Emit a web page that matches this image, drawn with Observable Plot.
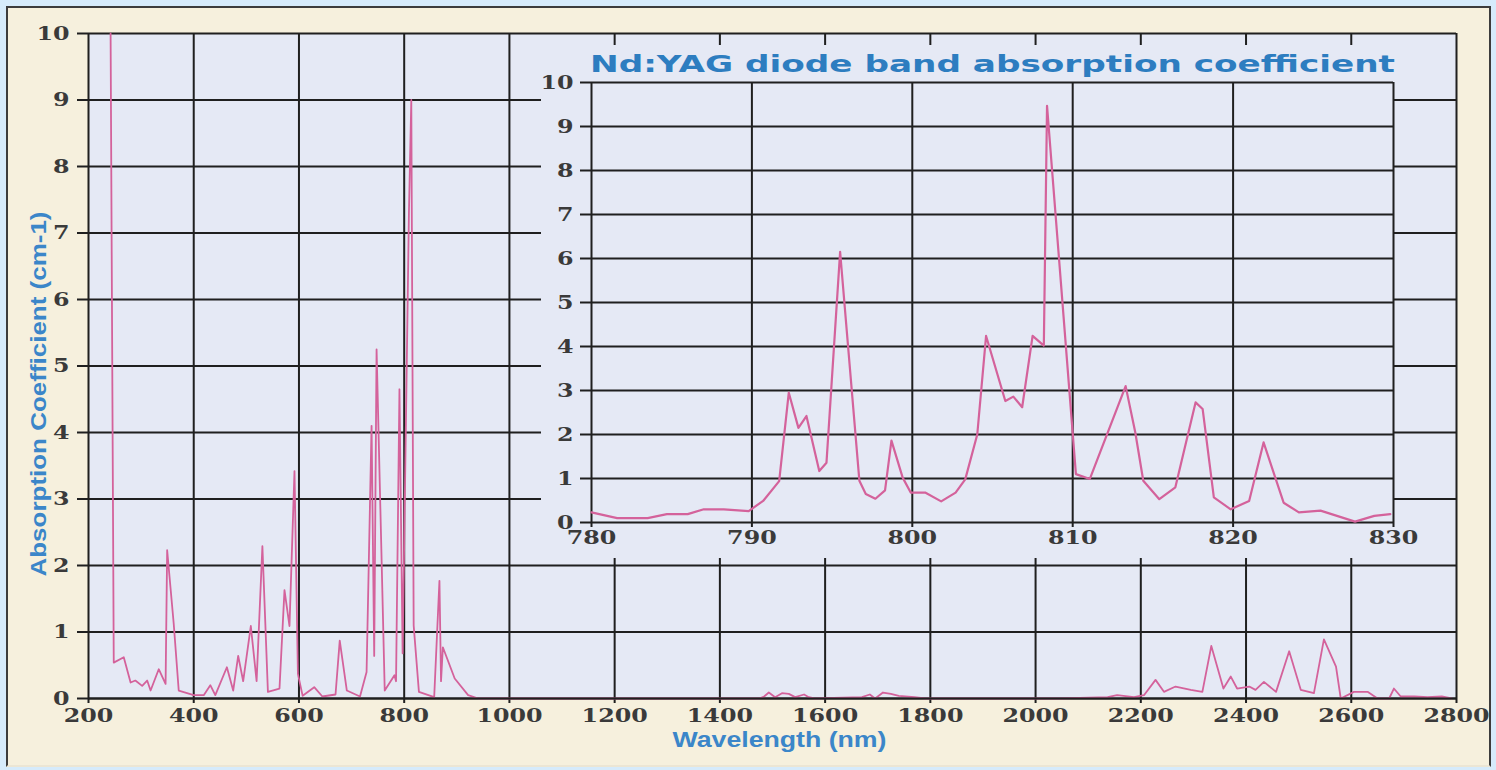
<!DOCTYPE html>
<html><head><meta charset="utf-8">
<script src="https://cdn.jsdelivr.net/npm/d3@7"></script>
<script src="https://cdn.jsdelivr.net/npm/@observablehq/plot@0.6"></script>
<style>
html,body{margin:0;padding:0;background:#d6ebfb;width:1496px;height:770px;overflow:hidden;}
#frame{position:absolute;left:6px;top:6px;width:1485px;height:761px;background:#f6f0dd;border:2px solid #3c3c3c;border-bottom-color:#ece6d4;box-sizing:border-box;}
#main{position:absolute;left:0;top:0;width:1496px;height:770px;}
#inset{position:absolute;left:541px;top:45px;width:853px;height:513px;}
svg{overflow:visible;}
</style></head><body>
<div id="frame"></div>
<div id="main"></div>
<div id="inset"></div>
<script>
// ---- Main spectrum (wavelength nm, absorption cm-1) ----
const mainWavelength = [
  242, 248, 267, 280, 289, 302, 311.5, 318, 333.5, 346.5, 349.5, 362, 371.5,
  400, 419, 431.5, 441, 463, 475, 484.5, 494, 508.5, 519.5, 530.5, 541, 563, 572.5, 582, 591.5, 598,
  607, 629, 644.5, 669.5, 677.5, 691, 716, 728.5, 738, 743, 747.5, 763, 781.5, 784.5, 791, 797,
  809, 813.5, 818, 828, 857, 867, 870, 873.5, 896, 921.5, 941,
  1000, 1200, 1400, 1475, 1484, 1493, 1505, 1518, 1531, 1543, 1560, 1569, 1580,
  1670, 1685, 1695, 1710, 1725, 1740, 1770, 1790, 1900, 2000,
  2048, 2137, 2155, 2187, 2206, 2228, 2244, 2266, 2295, 2317, 2334, 2357, 2371, 2383,
  2406, 2418, 2434, 2457, 2482, 2504, 2529, 2548, 2571, 2580, 2605, 2631, 2650, 2672,
  2681, 2694, 2720, 2745, 2772, 2791
];
const mainAbsorption = [
  10, 0.54, 0.62, 0.24, 0.27, 0.19, 0.27, 0.12, 0.44, 0.22, 2.23, 1.12, 0.12,
  0.05, 0.05, 0.2, 0.05, 0.47, 0.12, 0.64, 0.26, 1.09, 0.26, 2.29, 0.1, 0.15, 1.63, 1.09, 3.42, 0.37,
  0.04, 0.17, 0.03, 0.06, 0.87, 0.12, 0.03, 0.4, 4.1, 0.64, 5.25, 0.12, 0.35, 0.26, 4.65, 0.68,
  7.3, 9.0, 1.1, 0.1, 0.02, 1.77, 0.26, 0.77, 0.3, 0.05, 0,
  0, 0, 0, 0, 0.03, 0.09, 0.02, 0.08, 0.07, 0.02, 0.06, 0.02, 0,
  0.02, 0.06, 0, 0.09, 0.07, 0.04, 0.02, 0, 0, 0,
  0, 0.02, 0.05, 0.02, 0.05, 0.28, 0.1, 0.18, 0.13, 0.1, 0.79, 0.15, 0.33, 0.15,
  0.18, 0.13, 0.25, 0.1, 0.71, 0.13, 0.08, 0.89, 0.48, 0, 0.1, 0.1, 0, 0,
  0.15, 0.03, 0.03, 0.02, 0.03, 0
];

// ---- Inset: diode band 780-830 nm ----
const insetWavelength = [
  780, 781.6, 783.5, 784.7, 786, 787, 788.25, 789.8, 790.7, 791.7, 792.3, 792.9, 793.4, 794.2, 794.65,
  795.5, 796.7, 797.1, 797.7, 798.3, 798.7, 799.4, 799.9, 800.8, 801.8, 802.7, 803.3, 804.05, 804.6,
  805.8, 806.3, 806.85, 807.5, 808.2, 808.4, 810.2, 811.07, 813.3, 813.9, 814.4, 815.4, 816.4,
  817.66, 818.1, 818.8, 819.85, 821, 821.9, 823.15, 824.1, 825.45, 827.6, 828.8, 829.8
];
const insetAbsorption = [
  0.23, 0.1, 0.1, 0.19, 0.19, 0.3, 0.3, 0.26, 0.49, 0.94, 2.95, 2.15, 2.42, 1.17, 1.36,
  6.15, 0.95, 0.65, 0.54, 0.73, 1.86, 1.02, 0.68, 0.68, 0.48, 0.68, 0.98, 2.0, 4.24,
  2.76, 2.86, 2.62, 4.24, 4.02, 9.47, 1.1, 0.99, 3.1, 2.05, 0.95, 0.53, 0.8,
  2.73, 2.58, 0.57, 0.3, 0.49, 1.82, 0.45, 0.23, 0.27, 0.02, 0.15, 0.19
];

// ---- Ticks and text ----
const mainXTicks = [200, 400, 600, 800, 1000, 1200, 1400, 1600, 1800, 2000, 2200, 2400, 2600, 2800];
const mainYTicks = [0, 1, 2, 3, 4, 5, 6, 7, 8, 9, 10];
const insetXTicks = [780, 790, 800, 810, 820, 830];
const insetYTicks = [0, 1, 2, 3, 4, 5, 6, 7, 8, 9, 10];
const xLabel = "Wavelength (nm)";
const yLabel = "Absorption Coefficient (cm-1)";
const insetTitle = "Nd:YAG diode band absorption coefficient";

const mainData = mainWavelength.map((w, i) => ({w, a: mainAbsorption[i]}));
const insetData = insetWavelength.map((w, i) => ({w, a: insetAbsorption[i]}));

const gridColor = "#1f1f1f";
const lineColor = "#d4629b";
const labelFont = {fontFamily: "'DejaVu Serif', serif", fontSize: 19, fontWeight: "bold", fill: "#3a3a3a"};
const svgStyle = {fontFamily: "'DejaVu Serif', serif", fontSize: "19px", fontWeight: "bold", color: "#3a3a3a", overflow: "visible"};
const fmt = d => String(d);

const main = Plot.plot({
  width: 1496, height: 770,
  marginLeft: 88, marginRight: 40, marginTop: 33, marginBottom: 72,
  style: {...svgStyle, background: "transparent"},
  x: {domain: [200, 2800]},
  y: {domain: [0, 10]},
  marks: [
    Plot.frame({fill: "#e5e9f5", stroke: null}),
    Plot.gridX(mainXTicks, {stroke: gridColor, strokeOpacity: 1, strokeWidth: 2}),
    Plot.gridY(mainYTicks, {stroke: gridColor, strokeOpacity: 1, strokeWidth: 2}),
    Plot.axisX(mainXTicks, {tickSize: 5, tickPadding: 5, label: null, tickFormat: fmt, stroke: gridColor, strokeWidth: 2, ...labelFont}),
    Plot.axisY(mainYTicks, {tickSize: 11, tickPadding: 8, label: null, tickFormat: fmt, stroke: gridColor, strokeWidth: 2, ...labelFont}),
    Plot.line(mainData, {x: "w", y: "a", stroke: lineColor, strokeWidth: 1.8}),
    Plot.ruleY([0], {stroke: gridColor, strokeWidth: 2}),
    Plot.text([xLabel], {frameAnchor: "bottom", textAnchor: "middle", lineAnchor: "middle", dx: 7, dy: 41, fill: "#3b86c9", fontFamily: "'Liberation Sans', Arial, sans-serif", fontWeight: "bold", fontSize: 22}),
    Plot.text([yLabel], {frameAnchor: "left", textAnchor: "middle", lineAnchor: "middle", rotate: -90, dx: -50, dy: 28, fill: "#3b86c9", fontFamily: "'Liberation Sans', Arial, sans-serif", fontWeight: "bold", fontSize: 22})
  ]
});
document.getElementById("main").append(main);

const inset = Plot.plot({
  width: 853, height: 513,
  marginLeft: 50, marginRight: 1, marginTop: 37, marginBottom: 36,
  style: {...svgStyle, background: "#e5e9f5"},
  x: {domain: [780, 830]},
  y: {domain: [0, 10]},
  marks: [
    Plot.gridX(insetXTicks, {stroke: gridColor, strokeOpacity: 1, strokeWidth: 2}),
    Plot.gridY(insetYTicks, {stroke: gridColor, strokeOpacity: 1, strokeWidth: 2}),
    Plot.axisX(insetXTicks, {tickSize: 5, tickPadding: 3, label: null, tickFormat: fmt, stroke: gridColor, strokeWidth: 2, ...labelFont}),
    Plot.axisY(insetYTicks, {tickSize: 11, tickPadding: 7, label: null, tickFormat: fmt, stroke: gridColor, strokeWidth: 2, ...labelFont}),
    Plot.line(insetData, {x: "w", y: "a", stroke: lineColor, strokeWidth: 2.2}),
    Plot.text([insetTitle], {frameAnchor: "top", textAnchor: "middle", lineAnchor: "middle", dy: -18, fill: "#2d7dc0", fontFamily: "'DejaVu Sans', sans-serif", fontWeight: "bold", fontSize: 23})
  ]
});
document.getElementById("inset").append(inset);

// widen the glyphs like the original (which is a horizontally stretched figure)
function stretch(el, target) {
  const len = el.getComputedTextLength();
  if (!len) return;
  el.setAttribute("textLength", typeof target === "function" ? target(len) : target);
  el.setAttribute("lengthAdjust", "spacingAndGlyphs");
}
for (const svg of [main, inset]) {
  svg.querySelectorAll('g[aria-label$="tick label"] text').forEach(t => stretch(t, l => l * 1.25));
}
main.querySelectorAll("text").forEach(t => {
  if (t.textContent === xLabel) stretch(t, 214);
  if (t.textContent === yLabel) stretch(t, 365);
});
inset.querySelectorAll("text").forEach(t => {
  if (t.textContent === insetTitle) stretch(t, 805);
});
</script>
</body></html>
